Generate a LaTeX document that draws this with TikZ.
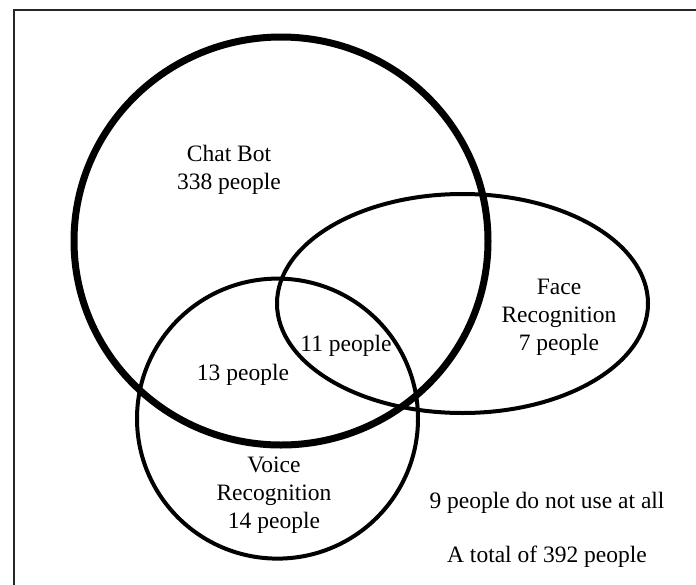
\documentclass[tikz,border=0pt]{standalone}
\usepackage{fontspec}
\setmainfont{Liberation Serif}
\usetikzlibrary{shapes.geometric}
\begin{document}
\begin{tikzpicture}[x=1pt,y=-1pt,
  thinset/.style={draw=black,line width=4pt,ellipse,inner sep=0pt},
  thickset/.style={draw=black,line width=7pt,ellipse,inner sep=0pt},
  lbl/.style={align=center,inner sep=0pt,font=\fontsize{23.5}{28}\selectfont}]
\useasboundingbox (0,0) rectangle (696,584);
\fill[white] (0,0) rectangle (696,584);
% frame (only top and left edges are inside the picture)
\draw[line width=2pt,black!85] (13.5,600) -- (13.5,10) -- (710,10);
% sets
\node[thickset,minimum width=414pt,minimum height=408pt] (chat) at (281,241) {};
\node[thinset,minimum width=371pt,minimum height=219pt] (face) at (462.5,303.5) {};
\node[thinset,minimum width=281pt,minimum height=280pt] (voice) at (277.5,418.6) {};
% labels
\node[lbl] (tchat) at (229,170) {Chat Bot\\338 people};
\node[lbl] (tface) at (559,317) {Face\\Recognition\\7 people};
\node[lbl] (tvoice) at (274,495) {Voice\\Recognition\\14 people};
\node[lbl] (t11) at (346,346) {11 people};
\node[lbl] (t13) at (243,375) {13 people};
\node[lbl] (tnone) at (547,503) {9 people do not use at all};
\node[lbl] (ttotal) at (547,557) {A total of 392 people};
\end{tikzpicture}
\end{document}
